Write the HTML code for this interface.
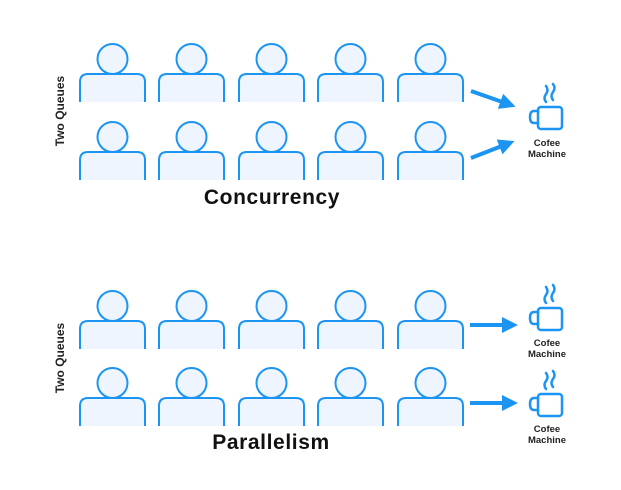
<!DOCTYPE html>
<html><head><style>body{margin:0;background:#fff}svg{display:block}</style></head><body>
<svg width="621" height="490" viewBox="0 0 621 490" xmlns="http://www.w3.org/2000/svg" font-family="Liberation Sans, sans-serif">
<defs>
<g id="p">
<path d="M0,28 V8 Q0,0 8,0 H57 Q65,0 65,8 V28" fill="#eef5fe" stroke="#1b94f2" stroke-width="2"/>
<circle cx="32.5" cy="-15" r="15" fill="#eef5fe" stroke="#1b94f2" stroke-width="2"/>
</g>
<g id="row">
<use href="#p" x="80"/><use href="#p" x="159"/><use href="#p" x="239"/><use href="#p" x="318"/><use href="#p" x="398"/>
</g>
<g id="cup" fill="none" stroke="#1b94f2" stroke-width="2.5" stroke-linecap="round">
<rect x="538" y="0" width="24" height="22" rx="3"/>
<path d="M538,4 H534 Q530,4 530,10 Q530,16 534,16 H538"/>
<path d="M546,-5 q-3,-4 0,-8 q3,-4 0,-8"/>
<path d="M553,-7 q-3,-4 0,-8 q3,-4 0,-8"/>
</g>
<marker id="ah" markerWidth="4" markerHeight="4" refX="2" refY="2" orient="auto" markerUnits="strokeWidth"><path d="M0,0 L4,2 L0,4 z" fill="#1b94f2"/></marker>
</defs>
<use href="#row" y="74"/><use href="#row" y="152"/>
<use href="#row" y="321"/><use href="#row" y="398"/>
<g stroke="#1b94f2" stroke-width="4">
<line x1="471" y1="91" x2="508" y2="104" marker-end="url(#ah)"/>
<line x1="471" y1="158" x2="507" y2="144" marker-end="url(#ah)"/>
<line x1="470" y1="325" x2="510" y2="325" marker-end="url(#ah)"/>
<line x1="470" y1="403" x2="510" y2="403" marker-end="url(#ah)"/>
</g>
<use href="#cup" y="107"/><use href="#cup" y="308"/><use href="#cup" y="394"/>
<g font-size="9.5" font-weight="bold" fill="#222" text-anchor="middle">
<text x="547" y="146">Cofee</text><text x="547" y="157">Machine</text>
<text x="547" y="346">Cofee</text><text x="547" y="357">Machine</text>
<text x="547" y="432">Cofee</text><text x="547" y="443">Machine</text>
</g>
<g font-size="12" font-weight="bold" fill="#222" text-anchor="middle">
<text transform="translate(64,111) rotate(-90)">Two Queues</text>
<text transform="translate(64,358) rotate(-90)">Two Queues</text>
</g>
<g font-size="21" font-weight="bold" fill="#111" text-anchor="middle" letter-spacing="0.6">
<text x="272" y="204">Concurrency</text>
<text x="271" y="449">Parallelism</text>
</g>
</svg>
</body></html>
